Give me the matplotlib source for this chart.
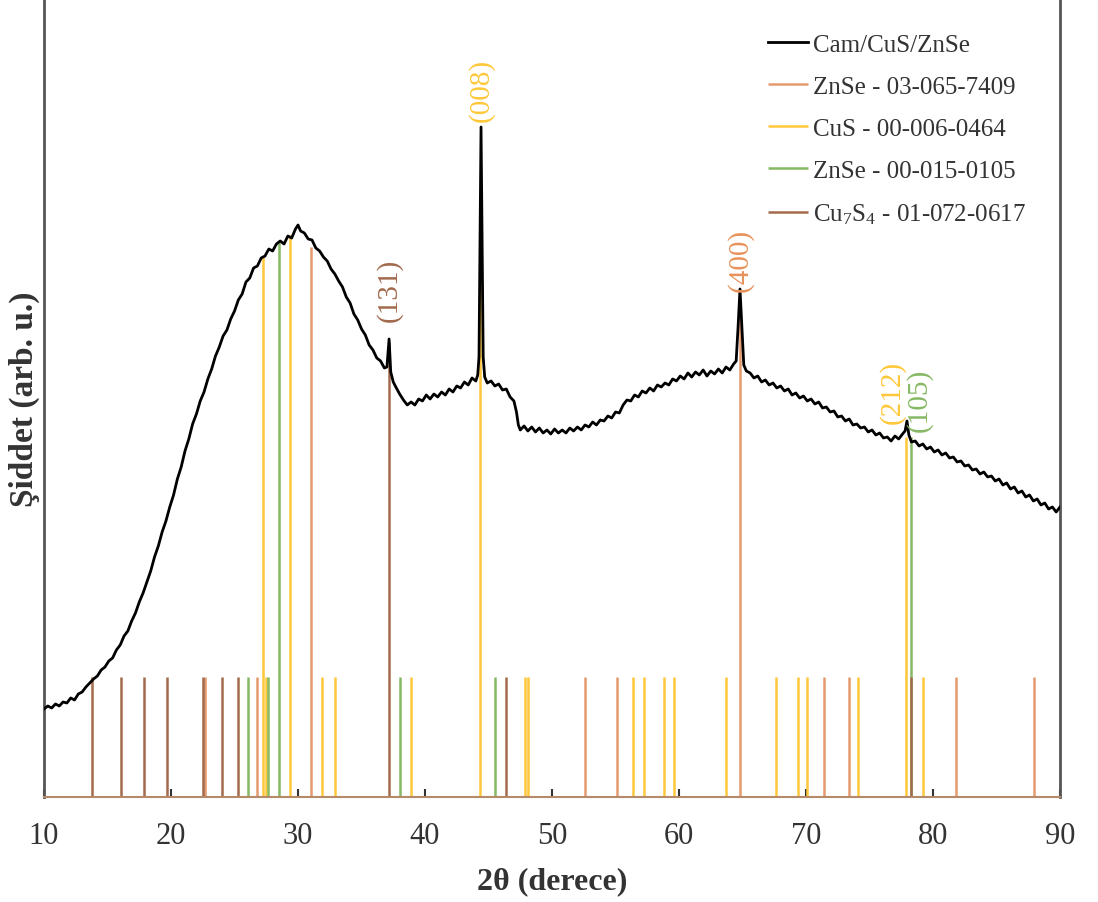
import numpy as np
import matplotlib
matplotlib.use("Agg")
import matplotlib.pyplot as plt

plt.rcParams['font.family'] = ['Liberation Serif', 'DejaVu Serif']
plt.rcParams['mathtext.fontset'] = 'custom'
plt.rcParams['mathtext.rm'] = 'Liberation Serif'
plt.rcParams['mathtext.it'] = 'Liberation Serif:italic'

########################## measured pattern ####################################
two_theta = [10.0, 10.3, 10.6, 10.9, 11.2, 11.5, 11.8, 12.1, 12.4, 12.7, 13.0, 13.3,
             13.6, 13.9, 14.2, 14.5, 14.8, 15.1, 15.4, 15.7, 16.0, 16.3, 16.6, 16.9,
             17.2, 17.5, 17.8, 18.1, 18.4, 18.7, 19.0, 19.3, 19.6, 19.9, 20.2, 20.5,
             20.8, 21.1, 21.4, 21.7, 22.0, 22.3, 22.6, 22.9, 23.2, 23.5, 23.8, 24.1,
             24.4, 24.7, 25.0, 25.3, 25.6, 25.9, 26.2, 26.5, 26.8, 27.1, 27.4, 27.7,
             28.0, 28.3, 28.6, 28.9, 29.2, 29.5, 29.8, 30.0, 30.2, 30.5, 30.8, 31.1,
             31.4, 31.7, 32.0, 32.3, 32.6, 32.9, 33.2, 33.5, 33.8, 34.1, 34.4, 34.7,
             35.0, 35.3, 35.6, 35.9, 36.2, 36.5, 36.8, 37.0, 37.17, 37.3, 37.5, 37.7,
             38.0, 38.3, 38.6, 38.9, 39.2, 39.5, 39.8, 40.1, 40.4, 40.7, 41.0, 41.3,
             41.6, 41.9, 42.2, 42.5, 42.8, 43.1, 43.4, 43.7, 44.0, 44.15, 44.25, 44.33,
             44.41, 44.49, 44.58, 44.7, 44.9, 45.2, 45.5, 45.8, 46.1, 46.4, 46.7, 47.0,
             47.2, 47.35, 47.5, 47.8, 48.1, 48.4, 48.7, 49.0, 49.3, 49.6, 49.9, 50.2,
             50.5, 50.8, 51.1, 51.4, 51.7, 52.0, 52.3, 52.6, 52.9, 53.2, 53.5, 53.8,
             54.1, 54.4, 54.7, 55.0, 55.3, 55.6, 55.9, 56.2, 56.5, 56.8, 57.1, 57.4,
             57.7, 58.0, 58.3, 58.6, 58.9, 59.2, 59.5, 59.8, 60.1, 60.4, 60.7, 61.0,
             61.3, 61.6, 61.9, 62.2, 62.5, 62.8, 63.1, 63.4, 63.7, 64.0, 64.3, 64.5,
             64.65, 64.8, 64.95, 65.1, 65.3, 65.6, 65.9, 66.2, 66.5, 66.8, 67.1, 67.4,
             67.7, 68.0, 68.3, 68.6, 68.9, 69.2, 69.5, 69.8, 70.1, 70.4, 70.7, 71.0,
             71.3, 71.6, 71.9, 72.2, 72.5, 72.8, 73.1, 73.4, 73.7, 74.0, 74.3, 74.6,
             74.9, 75.2, 75.5, 75.8, 76.1, 76.4, 76.7, 77.0, 77.3, 77.6, 77.8, 77.95,
             78.1, 78.3, 78.6, 78.9, 79.2, 79.5, 79.8, 80.1, 80.4, 80.7, 81.0, 81.3,
             81.6, 81.9, 82.2, 82.5, 82.8, 83.1, 83.4, 83.7, 84.0, 84.3, 84.6, 84.9,
             85.2, 85.5, 85.8, 86.1, 86.4, 86.7, 87.0, 87.3, 87.6, 87.9, 88.2, 88.5,
             88.8, 89.1, 89.4, 89.7, 90.0]
intensity = [88, 91, 89, 93, 91, 95, 94, 99, 97, 103, 105, 110,
             114, 118, 121, 127, 130, 136, 139, 147, 152, 161, 166, 176,
             184, 195, 204, 215, 226, 240, 251, 265, 276, 290, 302, 318,
             330, 346, 358, 373, 383, 396, 405, 418, 428, 441, 450, 461,
             467, 478, 486, 497, 503, 515, 519, 529, 531, 539, 541, 548,
             546, 553, 556, 553, 561, 559, 568, 572, 566, 564, 558, 557,
             549, 546, 540, 536, 528, 523, 516, 510, 500, 494, 483, 477,
             468, 462, 452, 447, 439, 436, 429, 430, 458, 425, 415, 410,
             403, 397, 392, 395, 392, 398, 396, 402, 398, 403, 400, 405,
             402, 408, 405, 411, 409, 415, 412, 419, 416, 422, 440, 560,
             670, 560, 440, 420, 414, 416, 411, 413, 407, 408, 400, 396,
             385, 372, 367, 371, 366, 370, 365, 369, 364, 367, 363, 368,
             364, 367, 364, 369, 366, 370, 367, 372, 370, 375, 372, 377,
             376, 381, 379, 385, 384, 392, 397, 396, 402, 400, 406, 404,
             409, 406, 412, 410, 414, 412, 418, 416, 421, 418, 424, 420,
             425, 422, 427, 421, 426, 423, 428, 424, 430, 427, 433, 436,
             470, 508, 470, 432, 426, 424, 419, 421, 415, 417, 412, 414,
             409, 411, 406, 408, 402, 404, 399, 401, 396, 398, 393, 395,
             389, 390, 385, 386, 380, 381, 376, 378, 372, 373, 369, 370,
             365, 367, 362, 364, 359, 360, 356, 361, 358, 363, 366, 376,
             362, 355, 356, 351, 353, 348, 350, 345, 347, 342, 344, 339,
             340, 335, 336, 331, 332, 327, 328, 323, 325, 320, 321, 316,
             318, 312, 314, 308, 310, 304, 306, 300, 302, 296, 298, 292,
             294, 288, 290, 285, 290]

########################## reference cards #####################################
znse1_pos = [22.7, 26.75, 31.05, 52.6, 55.1, 64.8, 71.4, 73.4, 81.8, 87.95]
znse1_h   = [120, 120, 550, 120, 120, 480, 120, 120, 120, 120]

cus_pos = [27.25, 27.5, 29.4, 31.9, 32.9, 38.9, 44.35, 47.85, 48.1, 56.35,
           57.25, 58.8, 59.6, 63.7, 67.6, 69.4, 70.1, 74.1, 77.9, 79.2]
cus_h   = [540, 120, 562, 120, 120, 120, 600, 120, 120, 120,
           120, 120, 120, 120, 120, 120, 120, 120, 360, 120]

znse2_pos = [26.1, 27.65, 28.5, 38.0, 45.5, 78.3]
znse2_h   = [120, 120, 555, 120, 120, 360]

cu7s4_pos = [13.8, 16.1, 17.9, 19.7, 22.55, 24.0, 25.3, 37.2, 46.4, 78.3]
cu7s4_h   = [120, 120, 120, 120, 120, 120, 120, 455, 120, 120]

# (hkl) annotations: label, 2theta, height of text centre
hkl_text = ['(131)', '(008)', '(400)', '(212)', '(105)']
hkl_x    = [37.2, 44.4, 64.8, 76.8, 78.9]
hkl_y    = [508, 708, 538, 406, 398]

c_znse1 = '#E59A6E'
c_cus   = '#FFC83A'
c_znse2 = '#86B964'
c_cu7s4 = '#A26A4C'
hkl_col = [c_cu7s4, c_cus, '#E8925A', c_cus, c_znse2]

############################# Plot ####################################
fig = plt.figure(figsize=(10.98, 9.03), dpi=100)
ax = fig.add_axes([0.0401, 0.1163, 0.9253, 0.8837])

ax.vlines(znse1_pos, 0, znse1_h, colors=c_znse1, lw=1.8, label='ZnSe - 03-065-7409', zorder=2)
ax.vlines(cus_pos, 0, cus_h, colors=c_cus, lw=1.8, label='CuS - 00-006-0464', zorder=2)
ax.vlines(znse2_pos, 0, znse2_h, colors=c_znse2, lw=1.8, label='ZnSe - 00-015-0105', zorder=2)
ax.vlines(cu7s4_pos, 0, cu7s4_h, colors=c_cu7s4, lw=1.8, label='Cu$_7$S$_4$ - 01-072-0617', zorder=2)
line, = ax.plot(two_theta, intensity, color='black', lw=2.0, label='Cam/CuS/ZnSe', zorder=3)

for t, x, y, c in zip(hkl_text, hkl_x, hkl_y, hkl_col):
    ax.text(x, y, t, rotation=90, color=c, fontsize=21, ha='center', va='center')

ax.set_xlim(10, 90)
ax.set_ylim(0, 798)
ax.set_xticks(np.arange(10, 91, 10))
ax.set_yticks([])
ax.tick_params(axis='x', direction='in', length=6, width=1.5, color='#333333',
               labelsize=22, labelcolor='#333333', pad=17)
ax.spines['top'].set_visible(False)
ax.spines['left'].set_color('#555555')
ax.spines['left'].set_linewidth(2)
ax.spines['right'].set_color('#555555')
ax.spines['right'].set_linewidth(2)
ax.spines['bottom'].set_color('#b58a6a')
ax.spines['bottom'].set_linewidth(1.5)

ax.set_xlabel('2θ (derece)', fontsize=23, fontweight='bold', color='#333333', labelpad=12)
ax.set_ylabel('Şiddet (arb. u.)', fontsize=24, fontweight='bold', color='#333333', labelpad=3)

handles, labels = ax.get_legend_handles_labels()
order = [4, 0, 1, 2, 3]
ax.legend([handles[i] for i in order], [labels[i] for i in order],
          loc='upper left', bbox_to_anchor=(0.69, 0.985), frameon=False,
          fontsize=18, handlelength=1.6, handletextpad=0.2, labelspacing=0.78,
          labelcolor='#333333')

fig.savefig('out.png', dpi=100)
